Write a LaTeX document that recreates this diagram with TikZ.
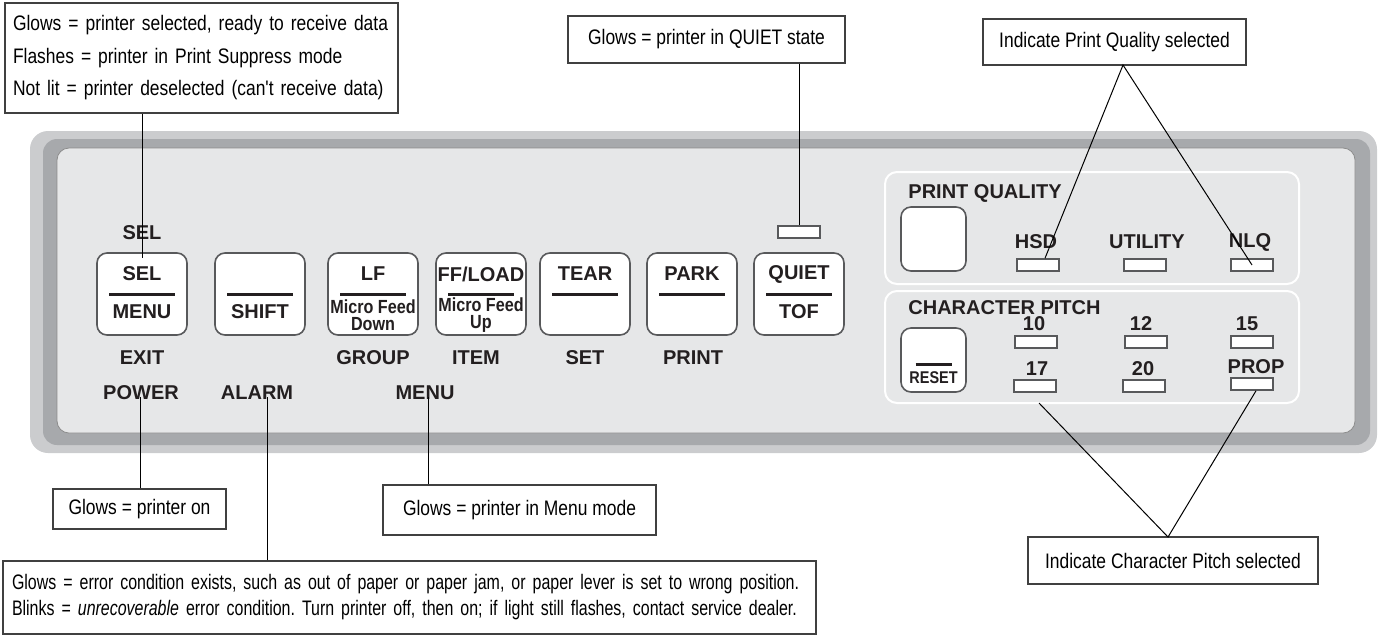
\documentclass[tikz,border=0pt]{standalone}
\usepackage{fontspec}
\setmainfont{Liberation Sans}
\newfontfamily\callfont[FakeStretch=0.83]{Liberation Sans}
\newfontfamily\alarmfont[FakeStretch=0.76, WordSpace=0.65]{Liberation Sans}
\newfontfamily\narrowfont[FakeStretch=0.85]{Liberation Sans}
\usetikzlibrary{positioning}
\definecolor{facecolor}{HTML}{E6E7E8}
\definecolor{bandcolor}{HTML}{A7A9AC}
\definecolor{rimcolor}{HTML}{CBCCCE}
\definecolor{keyedge}{HTML}{58595B}
\definecolor{inkcolor}{HTML}{231F20}
\tikzset{
  keybtn/.style={draw=keyedge, fill=white, line width=0.8pt, rounded corners=5pt, minimum width=45pt, minimum height=41pt, inner sep=0pt},
  sqbtn/.style={keybtn, minimum width=32.5pt, minimum height=32pt},
  led/.style={draw=keyedge, fill=white, line width=0.8pt, minimum width=21pt, minimum height=6pt, inner sep=0pt},
  grp/.style={draw=white, line width=1pt, rounded corners=6pt},
  lbl/.style={font=\bfseries\fontsize{10}{10}\selectfont, text=inkcolor, inner sep=0pt},
  subl/.style={font=\narrowfont\bfseries\fontsize{9.5}{8.5}\selectfont, text=inkcolor, inner sep=0pt, align=center},
  bar/.style={line width=1.5pt, draw=inkcolor},
  note/.style={draw=black!75, line width=0.7pt, fill=white, font=\callfont\fontsize{10.5}{13}\selectfont, inner sep=0pt},
  lead/.style={draw=black, line width=0.5pt},
}

\begin{document}
\frenchspacing
\begin{tikzpicture}[x=0.5pt, y=-0.5pt]
\useasboundingbox (0,0) rectangle (1379,638);
% panel
\fill[rimcolor, rounded corners=9pt] (30,131) rectangle (1377,453);
\fill[bandcolor, rounded corners=7pt] (43,139) rectangle (1370,445);
\filldraw[fill=facecolor, draw=black!45, line width=0.4pt, rounded corners=6pt] (57,148) rectangle (1355,433);

% keys
\node[keybtn] (selkey) at (142,294) {};
\node[keybtn] (shiftkey) at (260,294) {};
\node[keybtn] (lfkey) at (373,294) {};
\node[keybtn] (ffkey) at (481,294) {};
\node[keybtn] (tearkey) at (585,294) {};
\node[keybtn] (parkkey) at (692,294) {};
\node[keybtn] (quietkey) at (799,294) {};
\foreach \k in {selkey,shiftkey,lfkey,ffkey,tearkey,parkkey,quietkey}
  \draw[bar] ([xshift=-16.5pt]\k.center) -- ([xshift=16.5pt]\k.center);
\foreach \k/\t in {selkey/SEL, lfkey/LF, ffkey/{FF/LOAD}, tearkey/TEAR, parkkey/PARK, quietkey/QUIET}
  \node[lbl] at ([yshift=10pt]\k.center) {\t};
\foreach \k/\t in {selkey/MENU, shiftkey/SHIFT, quietkey/TOF}
  \node[lbl] at ([yshift=-9pt]\k.center) {\t};
\node[subl] at ([yshift=-10.5pt]lfkey.center) {Micro Feed\\Down};
\node[subl] at ([yshift=-10.5pt]ffkey.center) {Micro Feed\\Up};

% labels round the keys
\node[lbl] (sellbl) at (142,233) {SEL};
\node[lbl] (exitlbl) at (142,358) {EXIT};
\node[lbl] (grouplbl) at (373,358) {GROUP};
\node[lbl] (itemlbl) at (476,358) {ITEM};
\node[lbl] (setlbl) at (585,358) {SET};
\node[lbl] (printlbl) at (693,358) {PRINT};
\node[lbl] (powerlbl) at (141,393) {POWER};
\node[lbl] (alarmlbl) at (257,393) {ALARM};
\node[lbl] (menulbl) at (425,393) {MENU};
\node[led] (ledquiet) at (799,232) {};

% print quality and pitch groups
\draw[grp] (885,172) rectangle (1299,284);
\draw[grp] (885,291) rectangle (1299,403);
\node[lbl, anchor=west] (pqlbl) at (908,193) {PRINT QUALITY};
\node[lbl, anchor=west] (cplbl) at (908,308) {CHARACTER PITCH};
\node[sqbtn] (pqkey) at (933.5,239) {};
\node[sqbtn] (resetkey) at (933.5,360) {};
\draw[bar] ([xshift=-9pt,yshift=-2pt]resetkey.center) -- ([xshift=9pt,yshift=-2pt]resetkey.center);
\node[subl, font=\narrowfont\bfseries\fontsize{8.5}{8}\selectfont] at ([yshift=-9pt]resetkey.center) {RESET};
\foreach \n/\x/\y in {hsd/1038/265, util/1145/265, nlq/1252/265,
    p10/1036/342, p12/1146/342, p15/1252/342,
    p17/1035/386, p20/1144/386, prop/1252/384}
  \node[led] (led\n) at (\x,\y) {};
\foreach \x/\y/\t in {1036/242/HSD, 1147/242/UTILITY, 1250/242/NLQ,
    1034/324/10, 1141/324/12, 1247/324/15,
    1037/369/17, 1143/369/20, 1256/367/PROP}
  \node[lbl] at (\x,\y) {\t};

% callouts
\node[note, minimum width=196.5pt, minimum height=55pt, text width=188.5pt, align=left, font=\callfont\fontsize{10.5}{16.25}\selectfont] (selnote) at (201.5,58)
  {\mbox{Glows = printer selected, ready to receive data}\\\mbox{Flashes = printer in Print Suppress mode}\\\mbox{Not lit = printer deselected (can\symbol{"27}t receive data)}};
\node[note, minimum width=138.5pt, minimum height=23.5pt] (quietnote) at (706.5,39.5) {Glows = printer in QUIET state};
\node[note, minimum width=131.5pt, minimum height=23pt] (pqnote) at (1114.5,42) {Indicate Print Quality selected};
\node[note, minimum width=86.5pt, minimum height=20pt] (pwrnote) at (139.5,509) {Glows = printer on};
\node[note, minimum width=136.5pt, minimum height=25pt] (menunote) at (519.5,510) {Glows = printer in Menu mode};
\node[note, minimum width=406.5pt, minimum height=36.5pt, text width=397.5pt, align=left, font=\alarmfont\fontsize{10.5}{13}\selectfont] (alarmnote) at (409.5,597.5)
  {\mbox{Glows = error condition exists, such as out of paper or paper jam, or paper lever is set to wrong position.}\\
   \mbox{Blinks = \textit{unrecoverable} error condition. Turn printer off, then on; if light still flashes, contact service dealer.}};
\node[note, minimum width=145pt, minimum height=23.5pt] (cpnote) at (1173,560.5) {Indicate Character Pitch selected};

% leader lines
\coordinate (selcue) at (142,258);
\coordinate (pwrcue) at (140,397);
\coordinate (alarmcue) at (267,397);
\coordinate (menucue) at (428,397);
\coordinate (pqapex) at (1123,65);
\coordinate (cpapex) at (1168,537);
\coordinate (cpcue) at (1039,403);
\draw[lead] (selnote.south -| selcue) -- (selcue);
\draw[lead] (quietnote.south -| ledquiet.north) -- (ledquiet.north);
\draw[lead] ([xshift=3.5pt]ledhsd.north) -- (pqapex) -- (lednlq.center);
\draw[lead] (pwrnote.north -| pwrcue) -- (pwrcue);
\draw[lead] (alarmnote.north -| alarmcue) -- (alarmcue);
\draw[lead] (menunote.north -| menucue) -- (menucue);
\draw[lead] (cpcue) -- (cpapex) -- ([xshift=2pt]ledprop.south);
\end{tikzpicture}
\end{document}
